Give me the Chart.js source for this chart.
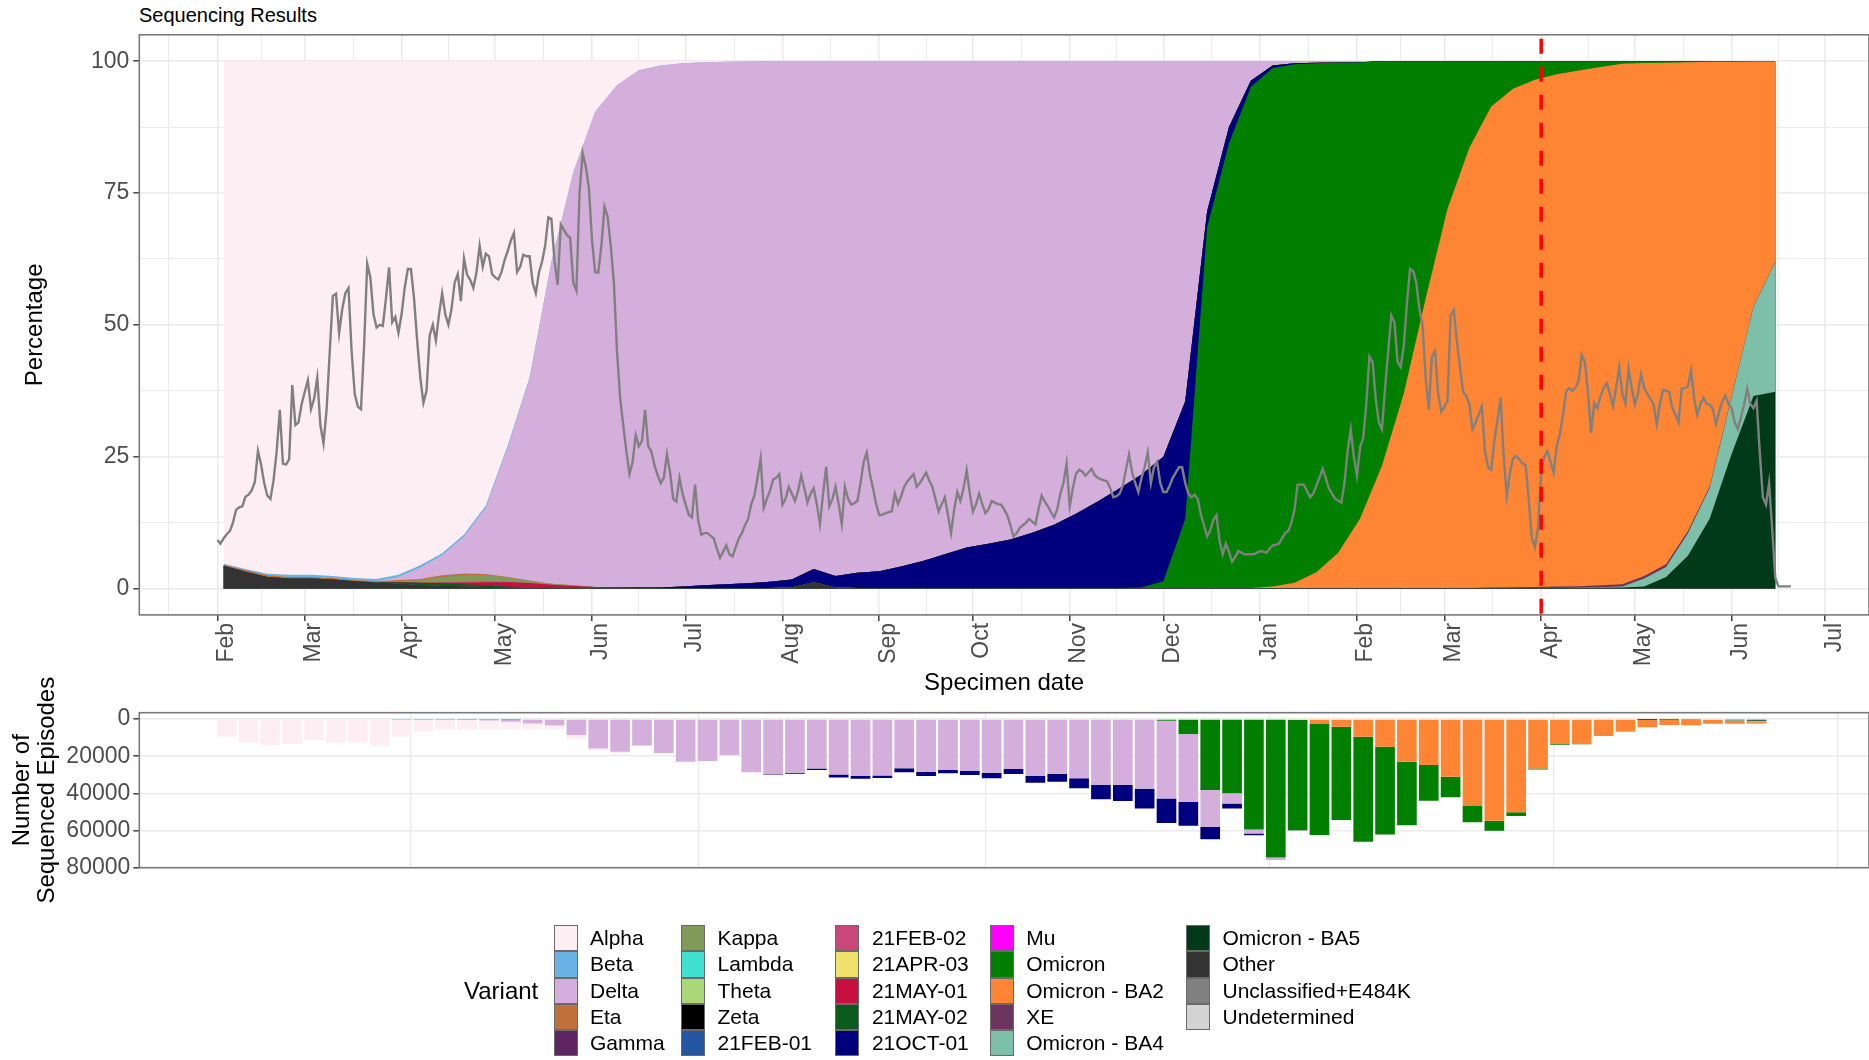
<!DOCTYPE html>
<html>
<head>
<meta charset="utf-8">
<script src="https://cdn.jsdelivr.net/npm/chart.js@4.4.1/dist/chart.umd.min.js"></script>
<style>
  html, body { margin: 0; padding: 0; background: #ffffff; }
  body { width: 1869px; height: 1060px; position: relative; overflow: hidden;
         font-family: 'Liberation Sans', Arial, Helvetica, sans-serif; }
  #title { position: absolute; left: 139px; top: 4px; font-size: 20px; line-height: 22px; color: #000; }
  #topChart { position: absolute; left: 0; top: 0; }
  #bottomChart { position: absolute; left: 0; top: 640px; }
  #legend { position: absolute; left: 0; top: 0; width: 1869px; height: 1060px; pointer-events: none; }
  .legend-title { position: absolute; font-size: 24px; line-height: 28px; color: #000; }
  .key { position: absolute; width: 24px; height: 26.3px; box-sizing: border-box; border: 1px solid #6a6a6a; }
  .lab { position: absolute; font-size: 21px; line-height: 26.3px; color: #000; white-space: nowrap; }
</style>
</head>
<body>
<div id="title">Sequencing Results</div>
<canvas id="topChart" width="1869" height="700"></canvas>
<canvas id="bottomChart" width="1869" height="280"></canvas>
<div id="legend"></div>
<script>
// ---------- dates and ticks ----------
const originDate = '2021-02-01';
const axisFrom = '2021-01-07';
const axisTo = '2022-07-15';
const cutoffDate = '2022-04-01';
const monthStarts = ['2021-02-01','2021-03-01','2021-04-01','2021-05-01','2021-06-01','2021-07-01',
  '2021-08-01','2021-09-01','2021-10-01','2021-11-01','2021-12-01','2022-01-01','2022-02-01',
  '2022-03-01','2022-04-01','2022-05-01','2022-06-01','2022-07-01'];
const monthLabels = ['Feb','Mar','Apr','May','Jun','Jul','Aug','Sep','Oct','Nov','Dec','Jan',
  'Feb','Mar','Apr','May','Jun','Jul'];
const pctTicks = [0, 25, 50, 75, 100];
const episodeTicks = [0, 20000, 40000, 60000, 80000];
const episodeGridDates = ['2021-04-04','2021-07-05','2021-10-05','2022-01-04','2022-04-05','2022-07-05'];

// ---------- variants ----------
const variantNames = ['Alpha','Beta','Delta','Eta','Gamma','Kappa','Lambda','Theta','Zeta',
  '21FEB-01','21FEB-02','21APR-03','21MAY-01','21MAY-02','21OCT-01','Mu','Omicron',
  'Omicron - BA2','XE','Omicron - BA4','Omicron - BA5','Other','Unclassified+E484K','Undetermined'];
const variantColors = ['#fdeef4','#68b3e3','#d4afdc','#c0703a','#5e2463','#7f9a5b','#40e0d0',
  '#aad878','#000000','#2456a4','#c9487a','#ede16b','#c70f40','#0b5c1c','#00007f','#ff00ff',
  '#007f00','#fe8534','#6b3560','#7dbfa8','#003a19','#333333','#808080','#d3d3d3'];

// ---------- daily trace (from 2021-02-01) ----------
const dailyStart = '2021-02-01';
const dailySeries = [
  9.2,8.5,9.5,10.3,10.9,12.5,14.9,15.4,15.6,17.4,
  17.8,18.6,20.2,26.1,23.5,20,17.6,17,20.5,26,
  33.9,23.7,23.5,24.5,38.6,31,31.5,35,37.3,39.5,
  34,36,40,31,27.5,34,45,55.5,55.9,48.4,
  53,56,57,45,36.9,34.5,34,46,61.6,59,
  52,49.5,50,49.8,55,60.9,50.5,51.5,48.5,52,
  57,60.6,60.6,55,47,40,35.2,37.5,48,50,
  47,52,56,52,50,53,58,59.6,54.5,62.6,
  59.5,58.5,57,60,65,61,63.5,63,59.6,59,
  58.6,60,62.3,64,66,67.4,60,61,63.3,63,
  63,58,56,59.9,62,65,70.4,70.1,62,57.6,
  69,68,67,66.5,58,56.5,75,82.6,80,76,
  66,60,59.9,65,72.4,70.5,65,58,45,36.2,
  31,26,21.7,24,29.1,27,28,33.9,27,26,
  23.4,21.5,20,21,25.5,22,17,16.5,21,18,
  15.9,14,13.5,19.7,13,10.2,10.5,10.5,10,9.5,
  7.5,5.8,7,8.2,6.5,6.1,7.8,9.5,10.5,12,
  13.2,16,17.6,21,24.7,15.3,17,18.5,20.7,21,
  21.7,15.9,17,19.3,18,16.6,18.5,21.4,19,16.3,
  18,19,16,12.2,18,23.1,15.6,17,19.3,16,
  12.2,19.3,17,15.9,16.2,16.6,20,24,25.8,21.7,
  19,16,13.9,14,14.3,14.5,14.6,18,16,17.5,
  19.3,20.3,21,21.7,19.3,20,21,22,20.5,19.3,
  17,14.6,16,17.3,14,10.5,15,18.3,16.6,19,
  22.4,18,14.6,16,18,16,14.3,15,16.6,16.3,
  16,15.9,15,13.9,12,9.9,10.5,11.5,12,12.5,
  13.2,12.7,12.2,15,17.6,16.5,15.6,14.5,13.5,15,
  18,20,23.7,15.6,19,21.7,22.5,22.2,21.4,22,
  22.7,21.5,21,20.7,20.5,20.3,19,17.3,17.5,18,
  19.5,22.5,25.4,22,20,18.3,21,23,25.8,20,
  23,24,20,18.3,18.3,19.5,21,22,23,23,
  20,18,17.3,17.8,17,14,12,9.9,11,13,
  13.9,9,6.5,8.5,7,5.1,6,7.1,6.8,6.5,
  6.5,6.5,6.5,6.8,7.1,7,6.8,7.5,8.2,8.3,
  8.5,9.5,10.5,10.9,12.5,15,19.7,19.7,19.7,18.5,
  17.3,18,19.5,21,22.7,21,19,18,17,16.7,
  16.3,20,26,30.2,25,21.4,26.8,28.5,35,44,
  43,36,31.5,30.2,38,45,51.8,50.5,43,42,
  46,54,60.6,60.2,58,53,50,40,33.9,44,
  45,37,33.5,34.5,35.6,51.8,52.8,47,42,37.3,
  36.5,35,30.2,31.5,33,34.5,26,23,22.5,28,
  32,36.2,25,17.6,22,24.7,25.1,24.5,23.7,23.5,
  17,9.5,7.8,11.5,22,25,26.1,24,22,27,
  29.3,33,37.5,38,37.5,38,39.5,44.3,43,37,
  29.5,35.2,34.2,36.5,38,38.9,37,34.6,38,42,
  37,35,41.7,38,34.9,37,40.6,38,36.9,36,
  34.9,31.2,35,37.6,37.5,37.3,34.2,33,31.5,37.9,
  38,38.3,41.3,36,32.9,35,36.2,35,34.9,34,
  31.2,33.5,35.5,36.6,35,34.2,31.5,30.2,32.5,34.9,
  37.9,35,34.2,35.6,26,17.3,15.9,20,11.2,2,
  0.4,0.4,0.4,0.4,0.4
];

// ---------- weekly variant shares, % (weeks from 2021-02-03) ----------
const areaStart = '2021-02-03';
const shareOther = [4.3,3.2,2.2,1.9,1.9,1.7,1.4,1.1,0.9,0.6, 0.5,0.4,0.3,0.2,0.15,0.1,0.1,0.1,0.1,0.1,
  0.1,0.1,0.1,0.1,0.1,0.1,0.2,1.2,0.2,0.1, 0.1,0.1,0.1,0.1,0.1,0.1,0.1,0.1,0.1,0.1,
  0.1,0.1,0.1,0.1,0.1,0.1,0.1,0.1,0.1,0.1, 0.1,0.1,0.1,0.1,0.1,0.1,0.1,0.1,0.1,0.1,
  0.1,0.1,0.1,0.1,0.1,0.1,0.1,0.1,0.1,0.1, 0.1,0.1];
const shareBA5 = [0,0,0,0,0,0,0,0,0,0, 0,0,0,0,0,0,0,0,0,0, 0,0,0,0,0,0,0,0,0,0, 0,0,0,0,0,0,0,0,0,0,
  0,0,0,0,0,0,0,0,0,0, 0,0,0,0,0,0,0,0,0,0, 0,0,0,0.05,0.1,0.3,2.1,6.1,13.2,25.4, 36.4,37.2];
const shareBA4 = [0,0,0,0,0,0,0,0,0,0, 0,0,0,0,0,0,0,0,0,0, 0,0,0,0,0,0,0,0,0,0, 0,0,0,0,0,0,0,0,0,0,
  0,0,0,0,0,0,0,0,0,0, 0,0,0,0,0,0,0,0,0,0, 0,0,0.05,0.1,0.2,1.5,1.9,4.3,5.8,10.8, 16.9,24.6];
const shareXE = [0,0,0,0,0,0,0,0,0,0, 0,0,0,0,0,0,0,0,0,0, 0,0,0,0,0,0,0,0,0,0, 0,0,0,0,0,0,0,0,0,0,
  0,0,0,0,0,0,0,0,0,0, 0,0,0,0,0,0,0,0,0.1,0.15, 0.2,0.3,0.3,0.35,0.4,0.5,0.5,0.4,0.3,0.2, 0.1,0.1];
const shareBA2 = [0,0,0,0,0,0,0,0,0,0, 0,0,0,0,0,0,0,0,0,0, 0,0,0,0,0,0,0,0,0,0, 0,0,0,0,0,0,0,0,0,0,
  0,0,0,0,0,0,0,0,0.3,1.0, 3.0,6.7,13.2,23.2,36.9,54.9,71.9,83.5,91.2,94.5,
  96.2,97.1,97.8,98.3,98.7,97.25,95.1,88.9,80.5,63.4, 46.45,37.95];
const shareOmicron = [0,0,0,0,0,0,0,0,0,0, 0,0,0,0,0,0,0,0,0,0, 0,0,0,0,0,0,0,0,0,0, 0,0,0,0,0,0,0,0,0,0,
  0,0,0.1,1.3,13.1,68.4,84.3,95.0,98.3,98.3, 96.5,92.9,86.45,76.7,63.0,45.0,28.0,16.4,8.6,5.25,
  3.5,2.5,1.75,1.1,0.5,0.35,0.3,0.2,0.1,0.1, 0.05,0.05];
const share21OCT01 = [0,0,0,0,0,0,0,0,0,0, 0,0,0,0,0,0,0,0,0.05,0.1,
  0.1,0.3,0.5,0.7,0.9,1.2,1.5,2.5,2.2,2.9, 3.2,4.1,5.1,6.4,7.7,8.4,9.2,10.5,12.0,14.1,
  16.4,18.9,21.4,23.6,22.3,3.0,3.1,1.2,0.5,0.2, 0.1,0.05,0.05,0,0,0,0,0,0,0,
  0,0,0,0,0,0,0,0,0,0, 0,0];
const share21MAY02 = [0,0,0,0,0,0,0,0.1,0.3,0.5, 0.5,0.4,0.3,0.2,0.1,0,0,0,0,0,
  0,0,0,0,0,0,0,0,0,0, 0,0,0,0,0,0,0,0,0,0, 0,0,0,0,0,0,0,0,0,0, 0,0,0,0,0,0,0,0,0,0,
  0,0,0,0,0,0,0,0,0,0, 0,0];
const share21MAY01 = [0,0,0,0,0,0,0,0,0,0, 0.1,0.3,0.6,0.8,0.8,0.6,0.4,0.2,0.1,0,
  0,0,0,0,0,0,0,0,0,0, 0,0,0,0,0,0,0,0,0,0, 0,0,0,0,0,0,0,0,0,0, 0,0,0,0,0,0,0,0,0,0,
  0,0,0,0,0,0,0,0,0,0, 0,0];
const share21FEB02 = [0,0,0,0,0,0,0,0,0,0, 0.1,0.15,0.15,0.1,0,0,0,0,0,0,
  0,0,0,0,0,0,0,0,0,0, 0,0,0,0,0,0,0,0,0,0, 0,0,0,0,0,0,0,0,0,0, 0,0,0,0,0,0,0,0,0,0,
  0,0,0,0,0,0,0,0,0,0, 0,0];
const shareKappa = [0,0,0,0,0,0,0,0,0.2,0.5, 1.0,1.3,1.2,0.8,0.4,0.2,0.1,0,0,0,
  0,0,0,0,0,0,0,0,0,0, 0,0,0,0,0,0,0,0,0,0, 0,0,0,0,0,0,0,0,0,0, 0,0,0,0,0,0,0,0,0,0,
  0,0,0,0,0,0,0,0,0,0, 0,0];
const shareEta = [0.2,0.3,0.3,0.3,0.3,0.3,0.2,0.2,0.2,0.2, 0.3,0.3,0.2,0.1,0.05,0,0,0,0,0,
  0,0,0,0,0,0,0,0,0,0, 0,0,0,0,0,0,0,0,0,0, 0,0,0,0,0,0,0,0,0,0, 0,0,0,0,0,0,0,0,0,0,
  0,0,0,0,0,0,0,0,0,0, 0,0];
const shareDelta = [0,0,0,0,0,0,0,0,0.6,2.2, 3.8,7.0,12.6,24.6,38.3,61.0,78.3,90.1,95.2,98.1,
  99.0,99.2,99.2,99.1,98.95,98.7,98.3,96.3,97.6,97.0, 96.7,95.8,94.8,93.5,92.2,91.5,90.7,89.4,87.9,85.8,
  83.5,81.0,78.4,75.0,64.5,28.5,12.5,3.7,0.8,0.4, 0.3,0.25,0.2,0,0,0,0,0,0,0,
  0,0,0,0,0,0,0,0,0,0, 0,0];
const shareBeta = [0.2,0.2,0.3,0.4,0.4,0.4,0.4,0.4,0.4,0.4, 0.4,0.4,0.4,0.3,0.2,0.1,0.05,0,0,0,
  0,0,0,0,0,0,0,0,0,0, 0,0,0,0,0,0,0,0,0,0, 0,0,0,0,0,0,0,0,0,0, 0,0,0,0,0,0,0,0,0,0,
  0,0,0,0,0,0,0,0,0,0, 0,0];
const shareAlpha = [95.3,96.3,97.2,97.4,97.4,97.6,98.0,98.2,97.4,95.6, 93.3,89.75,84.25,72.9,60.0,38.0,21.05,9.6,4.55,1.7,
  0.8,0.4,0.2,0.1,0.05,0,0,0,0,0, 0,0,0,0,0,0,0,0,0,0, 0,0,0,0,0,0,0,0,0,0, 0,0,0,0,0,0,0,0,0,0,
  0,0,0,0,0,0,0,0,0,0, 0,0];

// stacking order, bottom to top
const areaStack = [
  ['Other', shareOther], ['Omicron - BA5', shareBA5], ['Omicron - BA4', shareBA4], ['XE', shareXE],
  ['Omicron - BA2', shareBA2], ['Omicron', shareOmicron], ['21OCT-01', share21OCT01],
  ['21MAY-02', share21MAY02], ['21MAY-01', share21MAY01], ['21FEB-02', share21FEB02],
  ['Kappa', shareKappa], ['Eta', shareEta], ['Delta', shareDelta], ['Beta', shareBeta], ['Alpha', shareAlpha]
];

// ---------- weekly sequenced episodes (weeks from 2021-02-04) ----------
const barStart = '2021-02-04';
const countAlpha = [9500,12700,14000,13400,11300,12700,12700,14400,9400,6550, 5300,5300,4800,4150,3200,2000,2300,1300,900,300,
  150,0,0,0,0,0,0,0,0,0, 0,0,0,0,0,0,0,0,0,0, 0,0,0,0,0,0,0,0,0,0, 0,0,0,0,0,0,0,0,0,0, 0,0,0,0,0,0,0,0,0,0, 0];
const countBeta = [0,0,0,0,0,0,0,0,100,100, 100,100,100,50,0,0,0,0,0,0,
  0,0,0,0,0,0,0,0,0,0, 0,0,0,0,0,0,0,0,0,0, 0,0,0,0,0,0,0,0,0,0, 0,0,0,0,0,0,0,0,0,0, 0,0,0,0,0,0,0,0,0,0, 0];
const countDelta = [0,0,0,0,0,0,0,0,0,150, 200,400,700,1400,2400,3500,8600,15800,17600,14200,
  18350,23000,22600,19400,28700,29600,28900,26600,29800,30700, 30400,26500,28400,27400,27800,28900,26900,30700,29600,31900,
  35500,35500,37700,41800,36400,19700,5400,2200,1400,500, 0,0,0,0,0,0,0,0,0,0, 0,0,0,0,0,0,0,0,0,0, 0];
const count21OCT01 = [0,0,0,0,0,0,0,0,0,0, 0,0,0,0,0,0,0,0,0,0,
  0,0,0,0,0,200,500,800,1600,1400, 1400,2200,2300,1800,2300,3000,2700,3600,4100,5400,
  7700,8600,10400,13300,12900,6800,2700,900,0,0, 0,0,0,0,0,0,0,0,0,0, 0,0,0,0,0,0,0,0,0,0, 0];
const countOmicron = [0,0,0,0,0,0,0,0,0,0, 0,0,0,0,0,0,0,0,0,0, 0,0,0,0,0,0,0,0,0,0, 0,0,0,0,0,0,0,0,0,0,
  0,0,0,900,8100,38200,40000,59400,74500,59300, 59700,50200,56500,47200,34100,19200,11100,8800,5400,2000,
  500,300,200,200,100,0,0,0,0,0, 0];
const countBA2 = [0,0,0,0,0,0,0,0,0,0, 0,0,0,0,0,0,0,0,0,0, 0,0,0,0,0,0,0,0,0,0, 0,0,0,0,0,0,0,0,0,0,
  0,0,0,0,0,0,0,0,0,500, 2700,4100,9500,14900,23000,24800,31000,46800,54700,50200,
  26600,13500,13400,8800,6700,4300,3000,3000,1950,1600, 1100];
const countBA4 = [0,0,0,0,0,0,0,0,0,0, 0,0,0,0,0,0,0,0,0,0, 0,0,0,0,0,0,0,0,0,0, 0,0,0,0,0,0,0,0,0,0,
  0,0,0,0,0,0,0,0,0,0, 0,0,0,0,0,0,0,0,0,0, 0,0,0,0,0,100,100,200,200,300, 450];
const countBA5 = [0,0,0,0,0,0,0,0,0,0, 0,0,0,0,0,0,0,0,0,0, 0,0,0,0,0,0,0,0,0,0, 0,0,0,0,0,0,0,0,0,0,
  0,0,0,0,0,0,0,0,0,0, 0,0,0,0,0,0,0,0,0,0, 0,0,0,0,0,50,100,200,350,600, 900];

// stacking order, nearest zero first
const barStack = [
  ['Omicron - BA5', countBA5], ['Omicron - BA4', countBA4], ['Omicron - BA2', countBA2],
  ['Omicron', countOmicron], ['Beta', countBeta], ['Delta', countDelta],
  ['21OCT-01', count21OCT01], ['Alpha', countAlpha]
];

// ---------- helpers ----------
const dayOf = d => (Date.parse(d + 'T00:00:00Z') - Date.parse(originDate + 'T00:00:00Z')) / 86400000;
const colorOf = name => variantColors[variantNames.indexOf(name)];
const xMin = dayOf(axisFrom), xMax = dayOf(axisTo);

function monthTickList() {
  const majors = monthStarts.map((d, i) => ({ value: dayOf(d), text: monthLabels[i] }));
  const edges = [dayOf('2021-01-01'), ...monthStarts.map(dayOf), dayOf('2022-08-01')];
  const minors = edges.slice(1).map((d, i) => ({ value: (edges[i] + d) / 2, text: '', minor: true }))
    .filter(t => t.value >= xMin && t.value <= xMax);
  return majors.concat(minors).sort((a, b) => a.value - b.value);
}
function valueTickList(majors, lo, hi) {
  const step = majors[1] - majors[0];
  const list = majors.map(v => ({ value: v, text: String(v) }));
  for (let i = -1; i < majors.length; i++) {
    const m = majors[0] + step * (i + 0.5);
    if (m >= lo && m <= hi) list.push({ value: m, text: '', minor: true });
  }
  return list.sort((a, b) => a.value - b.value);
}

Chart.defaults.font.family = "'Liberation Sans', Arial, Helvetica, sans-serif";
const GRID = '#ebebeb';
const TICK_TEXT = '#4d4d4d';
const isMinor = ctx => !!(ctx.tick && ctx.tick.minor);
const gridStyle = {
  color: GRID,
  lineWidth: ctx => isMinor(ctx) ? 1 : 1.6,
  tickLength: 6,
  tickWidth: 1.4,
  tickColor: ctx => isMinor(ctx) ? 'rgba(0,0,0,0)' : '#333333'
};

const panelBorder = {
  id: 'panelBorder',
  afterDraw(chart) {
    const { ctx, chartArea: a } = chart;
    ctx.save();
    ctx.strokeStyle = '#7a7a7a';
    ctx.lineWidth = 1.6;
    ctx.strokeRect(a.left, a.top, a.right - a.left, a.bottom - a.top);
    ctx.restore();
  }
};
const cutoffLine = {
  id: 'cutoffLine',
  afterDatasetsDraw(chart) {
    const { ctx, chartArea: a, scales } = chart;
    const x = scales.x.getPixelForValue(dayOf(cutoffDate));
    ctx.save();
    ctx.strokeStyle = '#ff0000';
    ctx.lineWidth = 3.5;
    ctx.setLineDash([15, 13]);
    ctx.beginPath();
    ctx.moveTo(x, a.top + 4);
    ctx.lineTo(x, a.bottom);
    ctx.stroke();
    ctx.restore();
  }
};

// ---------- top panel: variant shares ----------
const areaDatasets = areaStack.map(([name, values]) => ({
  label: name,
  data: values.map((v, i) => ({ x: dayOf(areaStart) + 7 * i, y: v })),
  backgroundColor: colorOf(name),
  borderWidth: 0,
  pointRadius: 0,
  fill: 'origin',
  stack: 'variants',
  order: 1
}));
const traceDataset = {
  label: 'daily',
  data: dailySeries.map((v, i) => ({ x: dayOf(dailyStart) + i, y: v })),
  borderColor: '#808080',
  borderWidth: 2.4,
  pointRadius: 0,
  fill: false,
  stack: 'trace',
  order: 0
};

new Chart(document.getElementById('topChart'), {
  type: 'line',
  data: { datasets: [...areaDatasets, traceDataset] },
  plugins: [cutoffLine, panelBorder],
  options: {
    responsive: false,
    animation: false,
    devicePixelRatio: 1,
    layout: { padding: { top: 34.8, left: 0, right: 0, bottom: 0 } },
    plugins: { legend: { display: false }, tooltip: { enabled: false } },
    elements: { line: { tension: 0 } },
    scales: {
      x: {
        type: 'linear', min: xMin, max: xMax,
        afterBuildTicks: ax => { ax.ticks = monthTickList(); },
        afterFit: ax => { ax.height = 85.1; },
        grid: gridStyle,
        border: { display: false },
        ticks: {
          autoSkip: false, maxRotation: 90, minRotation: 90, padding: 2, labelOffset: 9,
          color: TICK_TEXT, font: { size: 23 },
          callback: (v, i, ticks) => ticks[i].text
        },
        title: { display: true, text: 'Specimen date', color: '#000', font: { size: 24 }, padding: { top: 0, bottom: 2 } }
      },
      y: {
        type: 'linear', min: -5, max: 105, stacked: true,
        afterBuildTicks: ax => { ax.ticks = valueTickList(pctTicks, -5, 105); },
        afterFit: ax => { ax.width = 139.3; },
        grid: gridStyle,
        border: { display: false },
        ticks: { padding: 4, color: TICK_TEXT, font: { size: 23 }, callback: (v, i, ticks) => ticks[i].text },
        title: { display: true, text: 'Percentage', color: '#000', font: { size: 24 }, padding: { top: 21, bottom: 0 } }
      }
    }
  }
});

// ---------- bottom panel: weekly sequenced episodes ----------
const barDatasets = barStack.map(([name, counts]) => ({
  label: name,
  data: counts.map((c, i) => ({ x: dayOf(barStart) + 7 * i, y: c })),
  backgroundColor: colorOf(name),
  borderWidth: 0,
  barPercentage: 0.9,
  categoryPercentage: 1,
  stack: 'episodes'
}));

new Chart(document.getElementById('bottomChart'), {
  type: 'bar',
  data: { datasets: barDatasets },
  plugins: [panelBorder],
  options: {
    responsive: false,
    animation: false,
    devicePixelRatio: 1,
    layout: { padding: { top: 72.7, left: 0, right: 0, bottom: 0 } },
    plugins: { legend: { display: false }, tooltip: { enabled: false } },
    scales: {
      x: {
        type: 'linear', min: xMin, max: xMax, stacked: true, offset: false,
        afterBuildTicks: ax => { ax.ticks = episodeGridDates.map(d => ({ value: dayOf(d) })); },
        afterFit: ax => { ax.height = 52.3; },
        grid: { color: GRID, lineWidth: 1.3, offset: false, drawTicks: false },
        border: { display: false },
        ticks: { display: false }
      },
      y: {
        type: 'linear', min: -3400, max: 80000, reverse: true, stacked: true,
        afterBuildTicks: ax => { ax.ticks = valueTickList(episodeTicks, -3400, 80000); },
        afterFit: ax => { ax.width = 139.3; },
        grid: gridStyle,
        border: { display: false },
        ticks: { padding: 3, color: TICK_TEXT, font: { size: 23 }, callback: (v, i, ticks) => ticks[i].text },
        title: {
          display: true, text: ['Number of', 'Sequenced Episodes'], color: '#000',
          font: { size: 24, lineHeight: 1.03 }, padding: { top: 10, bottom: 0 }
        }
      }
    }
  }
});

// ---------- legend ----------
(function buildLegend() {
  const root = document.getElementById('legend');
  const colLefts = [553.5, 681, 835.4, 989.7, 1186];
  const rowTop = 925, rowH = 26.3, rowsPerCol = 5;
  const head = document.createElement('div');
  head.className = 'legend-title';
  head.textContent = 'Variant';
  head.style.left = '464px';
  head.style.top = (rowTop + rowH * 2.5 - 14) + 'px';
  root.appendChild(head);
  variantNames.forEach((name, i) => {
    const c = Math.floor(i / rowsPerCol), r = i % rowsPerCol;
    const key = document.createElement('div');
    key.className = 'key';
    key.style.left = colLefts[c] + 'px';
    key.style.top = (rowTop + r * rowH) + 'px';
    key.style.background = variantColors[i];
    root.appendChild(key);
    const lab = document.createElement('div');
    lab.className = 'lab';
    lab.textContent = name;
    lab.style.left = (colLefts[c] + 36.5) + 'px';
    lab.style.top = (rowTop + r * rowH) + 'px';
    root.appendChild(lab);
  });
})();
</script>
</body>
</html>
